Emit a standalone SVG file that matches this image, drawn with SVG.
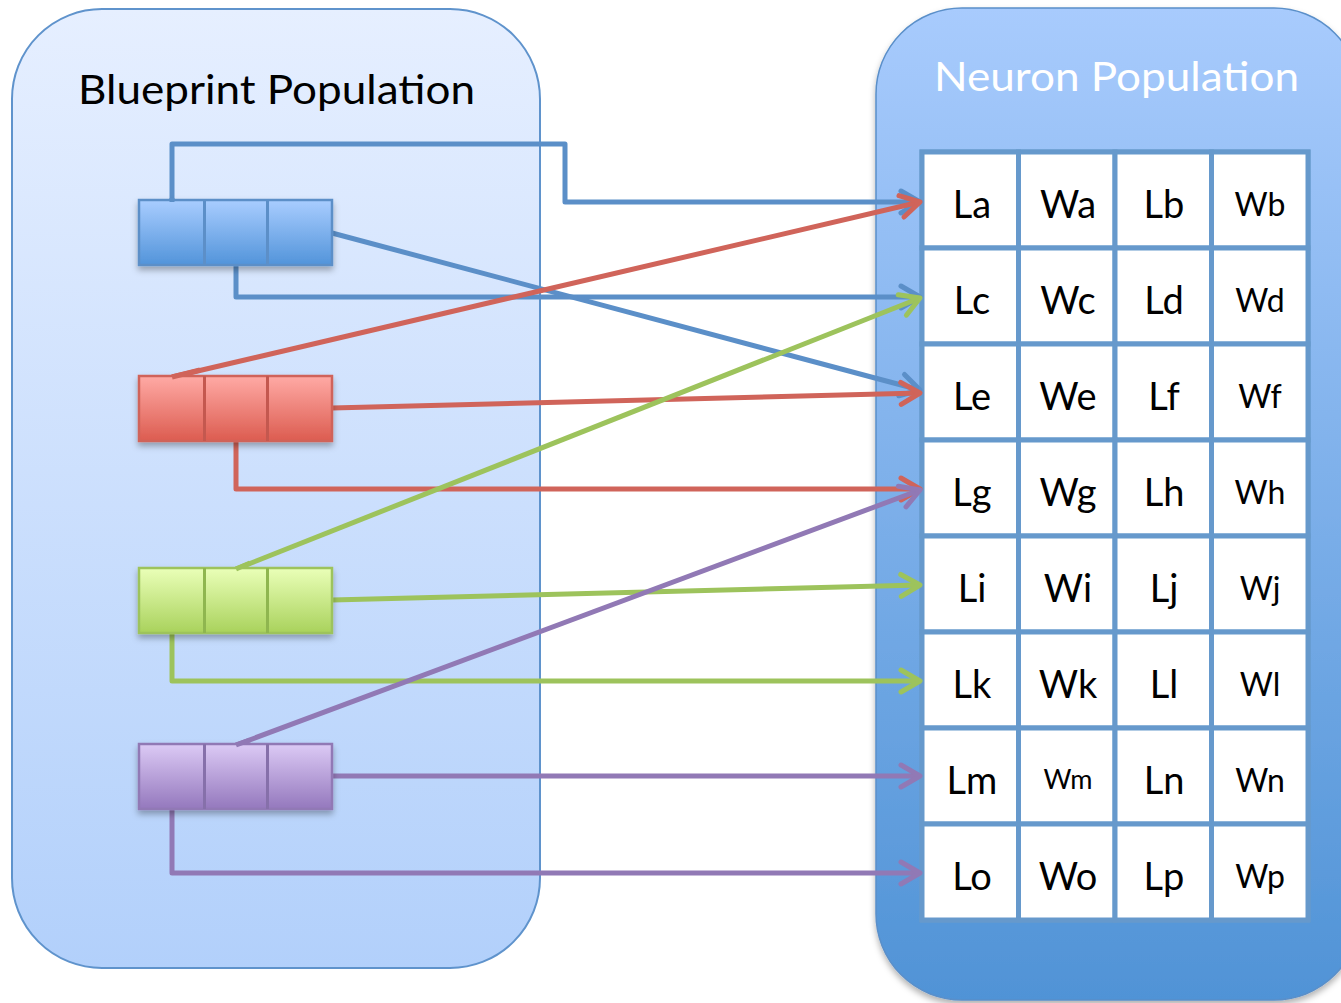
<svg xmlns="http://www.w3.org/2000/svg" width="1341" height="1003" viewBox="0 0 1341 1003">
  <defs>
    <linearGradient id="gLeft" x1="0" y1="0" x2="0" y2="1">
      <stop offset="0" stop-color="#e6efff"/>
      <stop offset="1" stop-color="#b2d0fb"/>
    </linearGradient>
    <linearGradient id="gRight" x1="0" y1="0" x2="0" y2="1">
      <stop offset="0" stop-color="#a8cbfd"/>
      <stop offset="1" stop-color="#5093d6"/>
    </linearGradient>
    <linearGradient id="gBlue" x1="0" y1="0" x2="0" y2="1">
      <stop offset="0" stop-color="#a9cdff"/>
      <stop offset="1" stop-color="#5294da"/>
    </linearGradient>
    <linearGradient id="gRed" x1="0" y1="0" x2="0" y2="1">
      <stop offset="0" stop-color="#ffaaa5"/>
      <stop offset="1" stop-color="#dc5c50"/>
    </linearGradient>
    <linearGradient id="gGreen" x1="0" y1="0" x2="0" y2="1">
      <stop offset="0" stop-color="#eaffb8"/>
      <stop offset="1" stop-color="#a9d25c"/>
    </linearGradient>
    <linearGradient id="gPurple" x1="0" y1="0" x2="0" y2="1">
      <stop offset="0" stop-color="#dccaf5"/>
      <stop offset="1" stop-color="#9478bd"/>
    </linearGradient>
    <filter id="shadow" x="-10%" y="-10%" width="130%" height="140%">
      <feDropShadow dx="0" dy="4" stdDeviation="3" flood-color="#000" flood-opacity="0.3"/>
    </filter>
    <marker id="aBlue" markerUnits="userSpaceOnUse" markerWidth="30" markerHeight="30" refX="22" refY="13" orient="auto" overflow="visible">
      <path d="M3,2 L22,13 L3,24" fill="none" stroke="#5b8fc8" stroke-width="5" stroke-linecap="round" stroke-linejoin="round"/>
    </marker>
    <marker id="aRed" markerUnits="userSpaceOnUse" markerWidth="30" markerHeight="30" refX="22" refY="13" orient="auto" overflow="visible">
      <path d="M3,2 L22,13 L3,24" fill="none" stroke="#d0645a" stroke-width="5" stroke-linecap="round" stroke-linejoin="round"/>
    </marker>
    <marker id="aGreen" markerUnits="userSpaceOnUse" markerWidth="30" markerHeight="30" refX="22" refY="13" orient="auto" overflow="visible">
      <path d="M3,2 L22,13 L3,24" fill="none" stroke="#9dc35c" stroke-width="5" stroke-linecap="round" stroke-linejoin="round"/>
    </marker>
    <marker id="aPurple" markerUnits="userSpaceOnUse" markerWidth="30" markerHeight="30" refX="22" refY="13" orient="auto" overflow="visible">
      <path d="M3,2 L22,13 L3,24" fill="none" stroke="#9179b5" stroke-width="5" stroke-linecap="round" stroke-linejoin="round"/>
    </marker>
  </defs>
  <style>
    .title { font-family: Lato, "Open Sans", "Liberation Sans", sans-serif; font-size: 40px; }
    .cell rect { fill: #ffffff; stroke: #6699cc; stroke-width: 5; }
    .cell text { font-family: Lato, "Open Sans", "Liberation Sans", sans-serif; font-size: 38px; fill: #000; text-anchor: middle; }
    .cell text.sm { font-size: 32px; }
    .cell text.xs { font-size: 27px; }
    .conn path { fill: none; stroke-width: 5; stroke-linejoin: round; }
    .blue { stroke: #5b8fc8; }
    .red { stroke: #d0645a; }
    .green { stroke: #9dc35c; }
    .purple { stroke: #9179b5; }
    .blk rect { stroke-width: 2.5; }
    .blk line { stroke-width: 3; }
  </style>

  <rect width="1341" height="1003" fill="#ffffff"/>

  <!-- Blueprint population panel -->
  <g id="blueprint-panel">
    <rect x="12" y="9" width="528" height="959" rx="90" ry="90" fill="url(#gLeft)" stroke="#5f93cc" stroke-width="2"/>
    <text class="title" x="78" y="104" textLength="397" lengthAdjust="spacingAndGlyphs" fill="#000">Blueprint Population</text>
  </g>

  <!-- Neuron population panel -->
  <g id="neuron-panel">
    <rect x="876" y="8" width="484" height="992" rx="86" ry="86" fill="url(#gRight)" stroke="#5a8fc9" stroke-width="1.5" filter="url(#shadow)"/>
    <text class="title" x="934" y="91" textLength="365" lengthAdjust="spacingAndGlyphs" fill="#ffffff">Neuron Population</text>
  </g>

  <!-- Neuron grid -->
  <g id="grid" class="cell">
    <rect x="922" y="152" width="386" height="768" fill="#6699cc" stroke="none"/>
    <g id="row-a">
      <rect x="922" y="152" width="96.5" height="96"/><rect x="1018.5" y="152" width="96.5" height="96"/><rect x="1115" y="152" width="96.5" height="96"/><rect x="1211.5" y="152" width="96.5" height="96"/>
      <text x="972" y="218">La</text><text x="1068" y="218">Wa</text><text x="1164" y="218">Lb</text><text class="sm" x="1260" y="216">Wb</text>
    </g>
    <g id="row-c">
      <rect x="922" y="248" width="96.5" height="96"/><rect x="1018.5" y="248" width="96.5" height="96"/><rect x="1115" y="248" width="96.5" height="96"/><rect x="1211.5" y="248" width="96.5" height="96"/>
      <text x="972" y="314">Lc</text><text x="1068" y="314">Wc</text><text x="1164" y="314">Ld</text><text class="sm" x="1260" y="312">Wd</text>
    </g>
    <g id="row-e">
      <rect x="922" y="344" width="96.5" height="96"/><rect x="1018.5" y="344" width="96.5" height="96"/><rect x="1115" y="344" width="96.5" height="96"/><rect x="1211.5" y="344" width="96.5" height="96"/>
      <text x="972" y="410">Le</text><text x="1068" y="410">We</text><text x="1164" y="410">Lf</text><text class="sm" x="1260" y="408">Wf</text>
    </g>
    <g id="row-g">
      <rect x="922" y="440" width="96.5" height="96"/><rect x="1018.5" y="440" width="96.5" height="96"/><rect x="1115" y="440" width="96.5" height="96"/><rect x="1211.5" y="440" width="96.5" height="96"/>
      <text x="972" y="506">Lg</text><text x="1068" y="506">Wg</text><text x="1164" y="506">Lh</text><text class="sm" x="1260" y="504">Wh</text>
    </g>
    <g id="row-i">
      <rect x="922" y="536" width="96.5" height="96"/><rect x="1018.5" y="536" width="96.5" height="96"/><rect x="1115" y="536" width="96.5" height="96"/><rect x="1211.5" y="536" width="96.5" height="96"/>
      <text x="972" y="602">Li</text><text x="1068" y="602">Wi</text><text x="1164" y="602">Lj</text><text class="sm" x="1260" y="600">Wj</text>
    </g>
    <g id="row-k">
      <rect x="922" y="632" width="96.5" height="96"/><rect x="1018.5" y="632" width="96.5" height="96"/><rect x="1115" y="632" width="96.5" height="96"/><rect x="1211.5" y="632" width="96.5" height="96"/>
      <text x="972" y="698">Lk</text><text x="1068" y="698">Wk</text><text x="1164" y="698">Ll</text><text class="sm" x="1260" y="696">Wl</text>
    </g>
    <g id="row-m">
      <rect x="922" y="728" width="96.5" height="96"/><rect x="1018.5" y="728" width="96.5" height="96"/><rect x="1115" y="728" width="96.5" height="96"/><rect x="1211.5" y="728" width="96.5" height="96"/>
      <text x="972" y="794">Lm</text><text class="xs" x="1068" y="789">Wm</text><text x="1164" y="794">Ln</text><text class="sm" x="1260" y="792">Wn</text>
    </g>
    <g id="row-o">
      <rect x="922" y="824" width="96.5" height="96"/><rect x="1018.5" y="824" width="96.5" height="96"/><rect x="1115" y="824" width="96.5" height="96"/><rect x="1211.5" y="824" width="96.5" height="96"/>
      <text x="972" y="890">Lo</text><text x="1068" y="890">Wo</text><text x="1164" y="890">Lp</text><text class="sm" x="1260" y="888">Wp</text>
    </g>
  </g>

  <!-- Connectors -->
  <g id="connectors" class="conn">
    <path class="blue" d="M172,202 V144 H565 V202 H920" marker-end="url(#aBlue)"/>
    <path class="blue" d="M236,265 V297 H920" marker-end="url(#aBlue)"/>
    <path class="blue" d="M332,233 L920,390" marker-end="url(#aBlue)"/>
    <path class="red" d="M172,377 L920,202" marker-end="url(#aRed)"/>
    <path class="red" d="M332,408 L920,393" marker-end="url(#aRed)"/>
    <path class="red" d="M236,441 V489 H920" marker-end="url(#aRed)"/>
    <path class="green" d="M236,569 L920,298" marker-end="url(#aGreen)"/>
    <path class="green" d="M332,600 L920,585" marker-end="url(#aGreen)"/>
    <path class="green" d="M172,633 V681 H920" marker-end="url(#aGreen)"/>
    <path class="purple" d="M236,745 L920,490" marker-end="url(#aPurple)"/>
    <path class="purple" d="M332,776 L920,776" marker-end="url(#aPurple)"/>
    <path class="purple" d="M172,809 V873 H920" marker-end="url(#aPurple)"/>
  </g>

  <!-- Blueprint blocks -->
  <g id="block-blue" class="blk" filter="url(#shadow)">
    <rect x="139" y="200" width="193" height="65" fill="url(#gBlue)" stroke="#5b8fc8"/>
    <line x1="204.5" y1="200" x2="204.5" y2="265" stroke="#5b8fc8"/>
    <line x1="267.5" y1="200" x2="267.5" y2="265" stroke="#5b8fc8"/>
  </g>
  <g id="block-red" class="blk" filter="url(#shadow)">
    <rect x="139" y="376" width="193" height="65" fill="url(#gRed)" stroke="#d0645a"/>
    <line x1="204.5" y1="376" x2="204.5" y2="441" stroke="#c4594f"/>
    <line x1="267.5" y1="376" x2="267.5" y2="441" stroke="#c4594f"/>
  </g>
  <g id="block-green" class="blk" filter="url(#shadow)">
    <rect x="139" y="568" width="193" height="65" fill="url(#gGreen)" stroke="#9dc35c"/>
    <line x1="204.5" y1="568" x2="204.5" y2="633" stroke="#8fb650"/>
    <line x1="267.5" y1="568" x2="267.5" y2="633" stroke="#8fb650"/>
  </g>
  <g id="block-purple" class="blk" filter="url(#shadow)">
    <rect x="139" y="744" width="193" height="65" fill="url(#gPurple)" stroke="#9179b5"/>
    <line x1="204.5" y1="744" x2="204.5" y2="809" stroke="#8670aa"/>
    <line x1="267.5" y1="744" x2="267.5" y2="809" stroke="#8670aa"/>
  </g>

  <!-- Connector ends that sit over the block edges -->
  <g id="connector-tips" class="conn">
    <path class="blue" d="M172,202 V198"/>
    <path class="red" d="M172,377 L200,370"/>
    <path class="green" d="M236,569 L250,563"/>
    <path class="purple" d="M236,745 L250,740"/>
  </g>
</svg>
